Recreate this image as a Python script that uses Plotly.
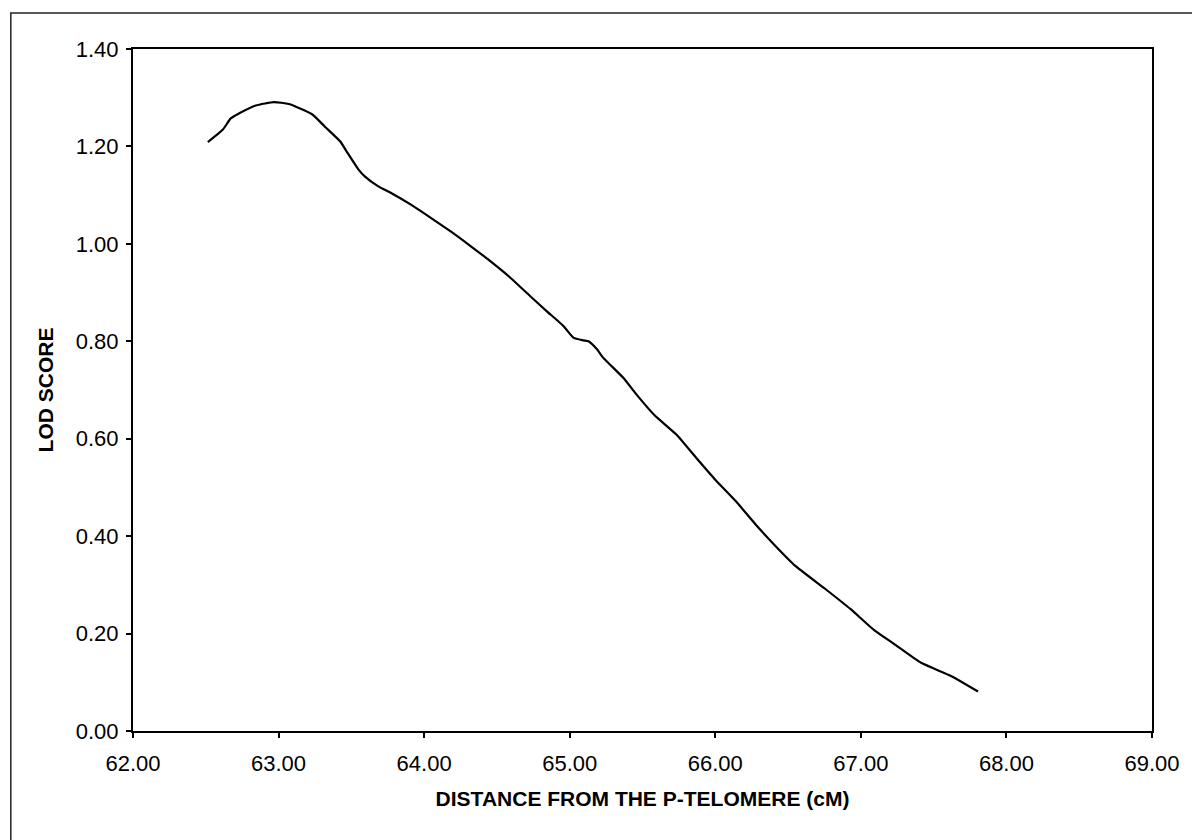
import plotly.graph_objects as go

distance_cm = [62.514, 62.616, 62.673, 62.73, 62.844, 62.969, 63.071, 63.23, 63.32, 63.424,
               63.469, 63.548, 63.594, 63.685, 63.776, 63.912, 64.048, 64.185, 64.321, 64.435,
               64.594, 64.731, 64.845, 64.958, 65.027, 65.095, 65.129, 65.186, 65.231, 65.368,
               65.458, 65.583, 65.731, 65.868, 65.993, 66.14, 66.277, 66.413, 66.55, 66.754,
               66.93, 67.096, 67.232, 67.414, 67.619, 67.805]
lod_score = [1.209, 1.234, 1.258, 1.268, 1.284, 1.291, 1.287, 1.266, 1.240, 1.210,
             1.189, 1.153, 1.138, 1.118, 1.104, 1.080, 1.053, 1.025, 0.995, 0.969,
             0.930, 0.892, 0.861, 0.831, 0.807, 0.802, 0.800, 0.784, 0.766, 0.725,
             0.691, 0.648, 0.609, 0.561, 0.518, 0.472, 0.424, 0.380, 0.339, 0.292,
             0.250, 0.206, 0.178, 0.140, 0.113, 0.081]

x_title = "DISTANCE FROM THE P-TELOMERE (cM)"
y_title = "LOD SCORE"

fig = go.Figure()
fig.add_trace(go.Scatter(
    x=distance_cm, y=lod_score, mode="lines",
    line=dict(color="black", width=2.2, shape="spline", smoothing=0.5),
    showlegend=False, hoverinfo="skip"))

tickfont = dict(family="Liberation Sans", size=22, color="black")
titlefont = dict(family="Liberation Sans", size=21, color="black")

fig.update_layout(
    width=1192, height=840,
    margin=dict(l=133, r=33, t=49, b=109),
    paper_bgcolor="white", plot_bgcolor="white",
    xaxis=dict(range=[62, 69], dtick=1, tick0=62, tickformat=".2f",
               showgrid=False, zeroline=False,
               showline=True, linecolor="black", linewidth=2, mirror=True,
               ticks="outside", ticklen=5, tickwidth=1.5, tickcolor="black",
               tickfont=tickfont, ticklabelstandoff=7,
               title=dict(text="<b>" + x_title + "</b>", font=titlefont, standoff=16)),
    yaxis=dict(range=[0, 1.4], dtick=0.2, tick0=0, tickformat=".2f",
               showgrid=False, zeroline=False,
               showline=True, linecolor="black", linewidth=2, mirror=True,
               ticks="outside", ticklen=5, tickwidth=1.5, tickcolor="black",
               tickfont=tickfont, ticklabelstandoff=3,
               title=dict(text="<b>" + y_title + "</b>", font=titlefont, standoff=16)),
    shapes=[dict(type="rect", xref="paper", yref="paper",
                 x0=-0.1199, x1=1.04, y0=-0.176, y1=1.0529,
                 line=dict(color="#222222", width=1.5), layer="below")],
)

fig.write_html("out.html")
